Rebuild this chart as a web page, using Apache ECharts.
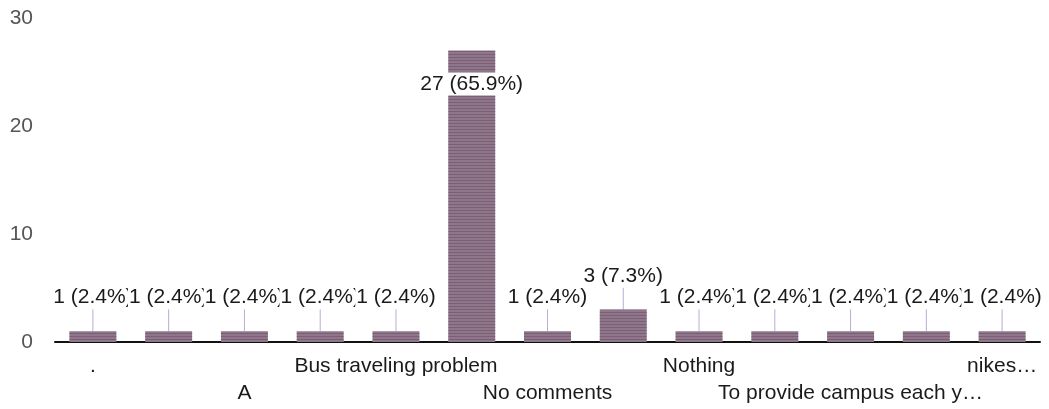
<!DOCTYPE html>
<html>
<head>
<meta charset="utf-8">
<script src="https://cdn.jsdelivr.net/npm/echarts@6/dist/echarts.min.js"></script>
<style>
html,body{margin:0;padding:0;background:#fff;}
#chart{width:1049px;height:409px;}
</style>
</head>
<body>
<div id="chart"></div>
<script>
// Categories (hidden-label categories are placeholders; only every other label is shown)
var categories = ['.', '..', 'A', 'All good', 'Bus traveling problem', 'Nil', 'No comments', 'None', 'Nothing', 'Nothing to say', 'To provide campus each y\u2026', 'Transport', 'nikes\u2026'];
var counts = [1, 1, 1, 1, 1, 27, 1, 3, 1, 1, 1, 1, 1];
var yTicks = [0, 10, 20, 30];

var total = counts.reduce(function (a, b) { return a + b; }, 0);
var FONT = '"Liberation Sans", Arial, sans-serif';
var GRID_TOP = 18;

function catLabelStyle(rowStart) {
  return {
    interval: function (i) { return i % 4 === rowStart; },
    showMinLabel: true,
    showMaxLabel: true,
    hideOverlap: false,
    margin: 12,
    fontFamily: FONT,
    fontSize: 21,
    lineHeight: 24,
    color: '#1a1a1a'
  };
}

var chart = echarts.init(document.getElementById('chart'), null, {renderer: 'canvas'});
chart.setOption({
  animation: false,
  backgroundColor: '#ffffff',
  grid: {left: 55, right: 9, top: GRID_TOP, bottom: 67, containLabel: false},
  xAxis: [{
    type: 'category',
    data: categories,
    axisTick: {show: false},
    axisLine: {show: true, lineStyle: {color: '#111', width: 2}},
    axisLabel: catLabelStyle(0)
  }, {
    type: 'category',
    data: categories,
    position: 'bottom',
    offset: 27,
    axisTick: {show: false},
    axisLine: {show: false},
    axisLabel: catLabelStyle(2)
  }],
  yAxis: {
    type: 'value',
    min: yTicks[0],
    max: yTicks[yTicks.length - 1],
    interval: yTicks[1] - yTicks[0],
    axisLine: {show: false},
    axisTick: {show: false},
    splitLine: {show: false},
    axisLabel: {margin: 22, fontFamily: FONT, fontSize: 21, color: '#555'}
  },
  series: [{
    type: 'bar',
    xAxisIndex: 0,
    data: counts,
    barCategoryGap: '38%',
    itemStyle: {
      color: '#8d7788',
      decal: {
        symbol: 'rect',
        symbolSize: 1,
        dashArrayX: [1, 0],
        dashArrayY: [1, 2],
        rotation: 0,
        color: 'rgba(110,70,105,0.5)'
      }
    },
    label: {
      show: true,
      position: 'top',
      distance: 0,
      fontFamily: FONT,
      fontSize: 21,
      color: '#1a1a1a',
      backgroundColor: '#ffffff',
      padding: [1, 1],
      formatter: function (p) {
        return p.value + ' (' + (p.value / total * 100).toFixed(1) + '%)';
      }
    },
    labelLine: {show: true, lineStyle: {color: '#b9acd6', width: 1}},
    labelLayout: function (p) {
      if (p.rect.y - 60 < GRID_TOP) {
        return {dy: 45};
      }
      return {dy: -22};
    }
  }]
});
</script>
</body>
</html>
